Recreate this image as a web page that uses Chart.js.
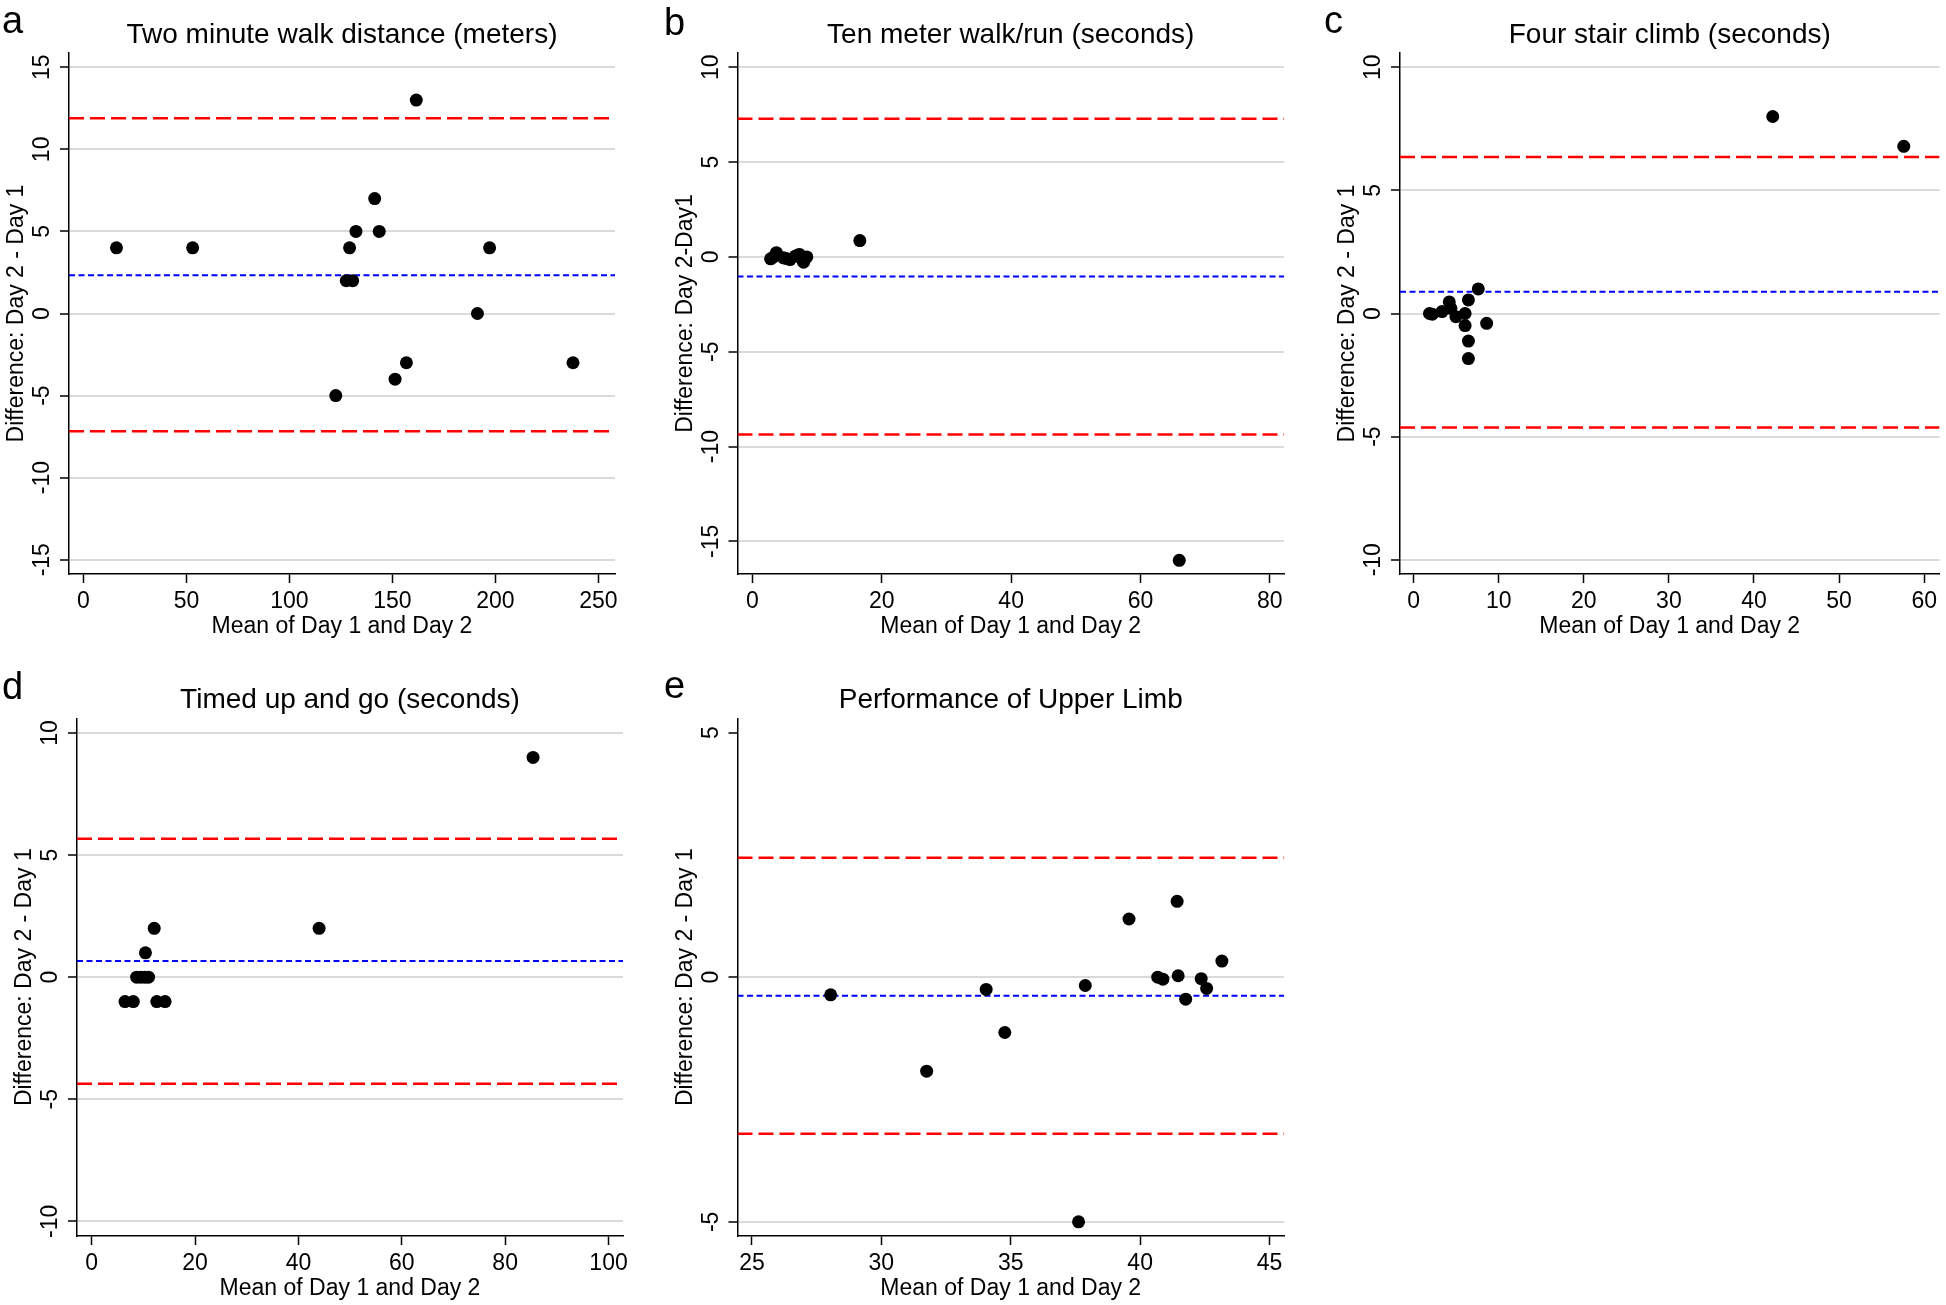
<!DOCTYPE html>
<html>
<head>
<meta charset="utf-8">
<script src="https://cdn.jsdelivr.net/npm/chart.js@4.4.1/dist/chart.umd.min.js"></script>
<style>
  body { margin: 0; background: #fff; }
  #wrap { position: relative; width: 1946px; height: 1305px; }
  canvas { position: absolute; }
</style>
</head>
<body>
<div id="wrap">
  <canvas id="pa" style="left:0px;top:0px"></canvas>
  <canvas id="pb" style="left:650px;top:0px"></canvas>
  <canvas id="pc" style="left:1300px;top:0px"></canvas>
  <canvas id="pd" style="left:0px;top:660px"></canvas>
  <canvas id="pe" style="left:650px;top:660px"></canvas>
</div>
<script>
// a: Two minute walk distance
var aX = [16, 53, 122.5, 127.6, 130.7, 129.2, 132.3, 141.4, 143.6, 151.3, 156.8, 161.6, 191.3, 197.2, 237.7];
var aY = [4, 4, -5, 2, 2, 4, 5, 7, 5, -4, -3, 13, 0, 4, -3];
var aLines = [11.9, 2.33, -7.17];   // upper limit, mean, lower limit
var aTicksX = [0, 50, 100, 150, 200, 250];
var aTicksY = [-15, -10, -5, 0, 5, 10, 15];

// b: Ten meter walk/run
var bX = [2.8, 3.2, 3.7, 4.8, 5.2, 5.8, 6.6, 7.0, 7.3, 7.8, 7.9, 8.2, 8.4, 16.6, 66.0];
var bY = [-0.1, -0.02, 0.22, -0.05, -0.08, -0.14, 0.04, 0.1, 0.12, -0.2, -0.28, -0.05, 0.0, 0.86, -16];
var bLines = [7.28, -1.03, -9.36];
var bTicksX = [0, 20, 40, 60, 80];
var bTicksY = [-15, -10, -5, 0, 5, 10];

// c: Four stair climb
var cX = [1.86, 2.2, 3.34, 4.19, 4.38, 4.97, 6.05, 6.05, 6.44, 6.44, 6.44, 7.6, 8.58, 42.2, 57.6];
var cY = [0, -0.03, 0.08, 0.47, 0.21, -0.13, 0, -0.49, 0.55, -1.12, -1.83, 1.0, -0.4, 8.0, 6.79];
var cLines = [6.36, 0.88, -4.63];
var cTicksX = [0, 10, 20, 30, 40, 50, 60];
var cTicksY = [-10, -5, 0, 5, 10];

// d: Timed up and go
var dX = [6.45, 8.06, 8.7, 9.5, 10.3, 11.0, 10.4, 12.1, 12.6, 14.2, 44, 85.4];
var dY = [-1, -1, 0, 0, 0, 0, 1, 2, -1, -1, 2, 9];
var dLines = [5.67, 0.66, -4.36];
var dTicksX = [0, 20, 40, 60, 80, 100];
var dTicksY = [-10, -5, 0, 5, 10];

// e: Performance of Upper Limb
var eX = [28.04, 31.75, 34.05, 34.77, 37.62, 37.88, 39.57, 40.68, 40.88, 41.43, 41.47, 41.76, 42.36, 42.57, 43.16];
var eY = [-0.36, -1.92, -0.25, -1.13, -5.0, -0.17, 1.19, 0, -0.04, 1.55, 0.03, -0.45, -0.03, -0.23, 0.33];
var eLines = [2.44, -0.38, -3.2];
var eTicksX = [25, 30, 35, 40, 45];
var eTicksY = [-5, 0, 5];

var FONT = '"Liberation Sans", Arial, Helvetica, sans-serif';
Chart.defaults.font.family = FONT;

// letters, titles and the rotated y tick labels (Stata style)
var panelText = {
    id: "panelText",
    afterDraw: function(chart, args, o) {
        var ctx = chart.ctx, ca = chart.chartArea, ys = chart.scales.y;
        var cx = (ca.left + ca.right) / 2;
        ctx.save();
        ctx.fillStyle = "#000";
        ctx.textBaseline = "alphabetic";

        ctx.font = "38px " + FONT;
        ctx.textAlign = "left";
        ctx.fillText(o.letter, o.letterX, o.letterY);

        ctx.textAlign = "center";
        ctx.font = "28px " + FONT;
        ctx.fillText(o.title, cx, ca.top - 10.5);

        ctx.font = "23px " + FONT;
        ctx.fillText(o.xTitle, cx, ca.bottom + 59);

        ctx.save();
        ctx.translate(ca.left - 46, (ca.top + ca.bottom) / 2);
        ctx.rotate(-Math.PI / 2);
        ctx.fillText(o.yTitle, 0, 0);
        ctx.restore();

        ys.ticks.forEach(function(t) {
            var py = ys.getPixelForValue(t.value);
            ctx.save();
            ctx.translate(ca.left - 20, py);
            ctx.rotate(-Math.PI / 2);
            ctx.fillText(String(t.value), 0, 0);
            ctx.restore();
        });
        ctx.restore();
    }
};

function makePanel(id, p) {
    var canvas = document.getElementById(id);
    canvas.width = p.w;
    canvas.height = p.h;
    canvas.style.width = p.w + "px";
    canvas.style.height = p.h + "px";

    var pts = p.xs.map(function(x, i) { return { x: x, y: p.ys[i] }; });
    function level(v, color, dash, width) {
        return {
            data: [{ x: p.xMin, y: v }, { x: p.xMax, y: v }],
            showLine: true,
            borderColor: color,
            borderWidth: width,
            borderDash: dash,
            pointRadius: 0,
            fill: false
        };
    }

    return new Chart(canvas, {
        type: "scatter",
        data: {
            datasets: [
                {
                    data: pts,
                    backgroundColor: "#000",
                    borderColor: "#000",
                    pointRadius: 6.5,
                    pointBorderWidth: 0
                },
                level(p.lines[0], "#ff0000", [15, 6], 2.5),
                level(p.lines[1], "#0000ff", [6, 3.5], 2),
                level(p.lines[2], "#ff0000", [15, 6], 2.5)
            ]
        },
        options: {
            responsive: false,
            animation: false,
            events: [],
            layout: { padding: { left: 0, top: p.top, right: p.w - p.right, bottom: 0 } },
            plugins: {
                legend: { display: false },
                tooltip: { enabled: false },
                panelText: {
                    letter: p.letter, letterX: p.letterX, letterY: p.letterY,
                    title: p.title, xTitle: "Mean of Day 1 and Day 2", yTitle: p.yTitle
                }
            },
            scales: {
                x: {
                    type: "linear",
                    min: p.xMin,
                    max: p.xMax,
                    afterBuildTicks: function(s) { s.ticks = p.ticksX.map(function(v) { return { value: v }; }); },
                    afterFit: function(s) { s.height = p.h - p.bottom; },
                    grid: { drawOnChartArea: false, drawTicks: true, tickLength: 9, tickColor: "#000", tickWidth: 1.5 },
                    border: { display: true, color: "#000", width: 1.5 },
                    ticks: { color: "#000", font: { size: 23 }, padding: 5, maxRotation: 0, autoSkip: false }
                },
                y: {
                    type: "linear",
                    min: p.yMin,
                    max: p.yMax,
                    afterBuildTicks: function(s) { s.ticks = p.ticksY.map(function(v) { return { value: v }; }); },
                    afterFit: function(s) { s.width = p.left; },
                    grid: {
                        color: function(c) { return (p.noGrid.indexOf(c.tick && c.tick.value) >= 0) ? "rgba(0,0,0,0)" : "#dadada"; },
                        lineWidth: 2,
                        drawTicks: true, tickLength: 9, tickColor: "#000", tickWidth: 1.5
                    },
                    border: { display: true, color: "#000", width: 1.5 },
                    ticks: { display: false }
                }
            }
        },
        plugins: [panelText]
    });
}

makePanel("pa", {
    w: 650, h: 650, left: 69, right: 615, top: 53, bottom: 574,
    xMin: -7.05, xMax: 258.1, yMin: -15.87, yMax: 15.87,
    xs: aX, ys: aY, lines: aLines, ticksX: aTicksX, ticksY: aTicksY, noGrid: [],
    letter: "a", letterX: 2, letterY: 33,
    title: "Two minute walk distance (meters)", yTitle: "Difference: Day 2 - Day 1"
});
makePanel("pb", {
    w: 650, h: 650, left: 87.5, right: 634, top: 53, bottom: 574,
    xMin: -2.32, xMax: 82.2, yMin: -16.72, yMax: 10.75,
    xs: bX, ys: bY, lines: bLines, ticksX: bTicksX, ticksY: bTicksY, noGrid: [],
    letter: "b", letterX: 14, letterY: 35,
    title: "Ten meter walk/run (seconds)", yTitle: "Difference: Day 2-Day1"
});
makePanel("pc", {
    w: 646, h: 650, left: 100, right: 645, top: 53, bottom: 574,
    xMin: -1.6, xMax: 61.8, yMin: -10.58, yMax: 10.58,
    xs: cX, ys: cY, lines: cLines, ticksX: cTicksX, ticksY: cTicksY, noGrid: [],
    letter: "c", letterX: 24, letterY: 33,
    title: "Four stair climb (seconds)", yTitle: "Difference: Day 2 - Day 1"
});
makePanel("pd", {
    w: 650, h: 645, left: 77, right: 623, top: 58.4, bottom: 576,
    xMin: -2.84, xMax: 102.8, yMin: -10.6, yMax: 10.6,
    xs: dX, ys: dY, lines: dLines, ticksX: dTicksX, ticksY: dTicksY, noGrid: [],
    letter: "d", letterX: 2, letterY: 39,
    title: "Timed up and go (seconds)", yTitle: "Difference: Day 2 - Day 1"
});
makePanel("pe", {
    w: 650, h: 645, left: 87.5, right: 634, top: 58.4, bottom: 576,
    xMin: 24.44, xMax: 45.56, yMin: -5.29, yMax: 5.29,
    xs: eX, ys: eY, lines: eLines, ticksX: eTicksX, ticksY: eTicksY, noGrid: [5],
    letter: "e", letterX: 14, letterY: 38,
    title: "Performance of Upper Limb", yTitle: "Difference: Day 2 - Day 1"
});
</script>
</body>
</html>
